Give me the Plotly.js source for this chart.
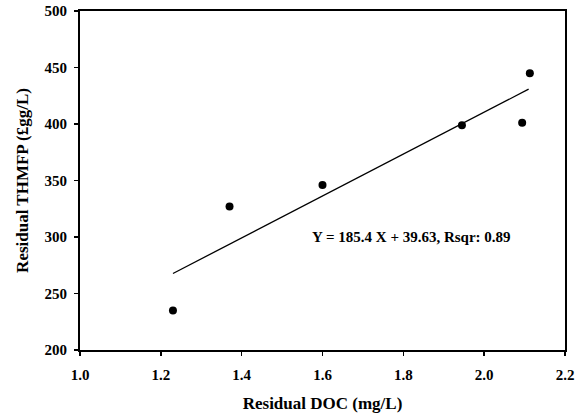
<!DOCTYPE html>
<html>
<head>
<meta charset="utf-8">
<script src="https://cdn.plot.ly/plotly-3.0.1.min.js"></script>
<style>html,body{margin:0;padding:0;background:#fff;}#chart{width:584px;height:419px;}</style>
</head>
<body>
<div id="chart"></div>
<script>
const docX = [1.23, 1.37, 1.60, 1.945, 2.094, 2.113];
const thmfpY = [235, 327, 346, 399, 401, 445];
const fitX = [1.23, 2.11];
const fitY = [267.7, 430.8];
const xTicks = [1.0, 1.2, 1.4, 1.6, 1.8, 2.0, 2.2];
const xTickText = ['1.0', '1.2', '1.4', '1.6', '1.8', '2.0', '2.2'];
const yTicks = [200, 250, 300, 350, 400, 450, 500];
const yTickText = ['200', '250', '300', '350', '400', '450', '500'];
const eqText = 'Y = 185.4 X + 39.63, Rsqr: 0.89';

const font = 'Liberation Serif, Times New Roman, serif';
const bold = s => '<b>' + s + '</b>';
const traces = [
  {x: fitX, y: fitY, mode: 'lines', line: {color: '#000', width: 1.3}, hoverinfo: 'skip'},
  {x: docX, y: thmfpY, mode: 'markers', marker: {color: '#000', size: 8, symbol: 'circle'}}
];
const layout = {
  width: 584, height: 419,
  margin: {l: 80, r: 19, t: 11, b: 69},
  paper_bgcolor: '#fff', plot_bgcolor: '#fff',
  showlegend: false,
  font: {family: font, color: '#000'},
  xaxis: {
    range: [1.0, 2.2], tickvals: xTicks, ticktext: xTickText.map(bold),
    showgrid: false, zeroline: false,
    showline: true, linecolor: '#000', linewidth: 2, mirror: true,
    ticks: 'outside', ticklen: 4, tickwidth: 1.5, tickcolor: '#000',
    ticklabelstandoff: 6,
    tickfont: {family: font, size: 15, color: '#000'},
    title: {text: bold('Residual DOC (mg/L)'), font: {family: font, size: 17, color: '#000'}, standoff: 15}
  },
  yaxis: {
    range: [200, 500], tickvals: yTicks, ticktext: yTickText.map(bold),
    showgrid: false, zeroline: false,
    showline: true, linecolor: '#000', linewidth: 2, mirror: true,
    ticks: 'outside', ticklen: 4, tickwidth: 1.5, tickcolor: '#000',
    ticklabelstandoff: 4,
    tickfont: {family: font, size: 15, color: '#000'},
    title: {text: bold('Residual THMFP (£gg/L)'), font: {family: font, size: 17, color: '#000'}, standoff: 12}
  },
  annotations: [{
    x: 1.82, y: 300, xref: 'x', yref: 'y', showarrow: false,
    text: bold(eqText),
    font: {family: font, size: 15, color: '#000'}
  }]
};
Plotly.newPlot('chart', traces, layout, {displayModeBar: false, staticPlot: true});
</script>
</body>
</html>
